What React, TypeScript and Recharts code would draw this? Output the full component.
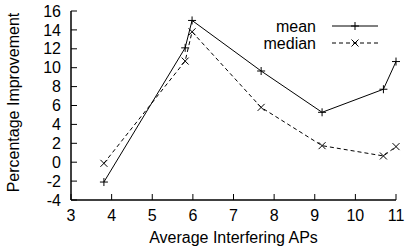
import { Line, LineChart, XAxis, YAxis } from "recharts";

const xValues = [3.81, 5.81, 5.98, 7.68, 9.18, 10.69, 11.0];
const meanValues = [-2.1, 12.1, 15.0, 9.65, 5.28, 7.72, 10.65];
const medianValues = [-0.12, 10.7, 13.8, 5.8, 1.75, 0.66, 1.65];

const xTicks = [3, 4, 5, 6, 7, 8, 9, 10, 11];
const yTicks = [-4, -2, 0, 2, 4, 6, 8, 10, 12, 14, 16];
const seriesNames = ["mean", "median"];

const font = '"Liberation Sans", Arial, Helvetica, sans-serif';
const fontSize = 16;
const tickStyle = { fill: "#000", fontSize, fontFamily: font };

const rows = xValues.map((x, i) => ({ x, mean: meanValues[i], median: medianValues[i] }));

function Plus({ cx, cy }: { cx: number; cy: number }) {
  return <path d={`M${cx - 4},${cy}h8M${cx},${cy - 4}v8`} stroke="#000" strokeWidth={1} fill="none" />;
}

function Cross({ cx, cy }: { cx: number; cy: number }) {
  return <path d={`M${cx - 3.5},${cy - 3.5}l7,7M${cx - 3.5},${cy + 3.5}l7,-7`} stroke="#000" strokeWidth={1} fill="none" />;
}

const blank = () => "";

export default function App() {
  return (
    <div style={{ position: "absolute", left: 0, top: 0, width: 406, height: 251, background: "#fff" }}>
      <LineChart width={406} height={251} data={rows} margin={{ top: 11, right: 10, left: 0, bottom: 0 }} style={{ fontFamily: font }}>
        <XAxis
          dataKey="x"
          type="number"
          domain={[3, 11]}
          ticks={xTicks}
          interval={0}
          height={51}
          tickSize={-6}
          tickMargin={16}
          tick={tickStyle}
          stroke="#000"
          axisLine={{ stroke: "#000", strokeWidth: 1.5 }}
          tickLine={{ stroke: "#000" }}
          label={({ viewBox }: any) => (
            <text x={viewBox.x + viewBox.width / 2} y={243} textAnchor="middle" fontSize={fontSize} fontFamily={font} fill="#000">
              Average Interfering APs
            </text>
          )}
        />
        <XAxis
          xAxisId="top"
          orientation="top"
          dataKey="x"
          type="number"
          domain={[3, 11]}
          ticks={xTicks}
          interval={0}
          height={0}
          tickSize={-6}
          tickFormatter={blank}
          stroke="#000"
          axisLine={{ stroke: "#000", strokeWidth: 1.5 }}
        />
        <YAxis
          type="number"
          domain={[-4, 16]}
          ticks={yTicks}
          interval={0}
          width={71}
          tickSize={-6}
          tickMargin={16}
          tick={tickStyle}
          stroke="#000"
          axisLine={{ stroke: "#000", strokeWidth: 1.5 }}
          label={({ viewBox }: any) => {
            const cy = viewBox.y + viewBox.height / 2 - 3;
            return (
              <text x={19} y={cy} transform={`rotate(-90, 19, ${cy})`} textAnchor="middle" fontSize={fontSize} fontFamily={font} fill="#000">
                Percentage Improvement
              </text>
            );
          }}
        />
        <YAxis
          yAxisId="right"
          orientation="right"
          type="number"
          domain={[-4, 16]}
          ticks={yTicks}
          interval={0}
          width={0}
          tickSize={-6}
          tickFormatter={blank}
          stroke="#000"
          axisLine={{ stroke: "#000", strokeWidth: 1.5 }}
        />
        <Line
          dataKey="mean"
          stroke="#000"
          strokeWidth={1}
          isAnimationActive={false}
          dot={(p: any) => <Plus key={`m${p.index}`} cx={p.cx} cy={p.cy} />}
        />
        <Line
          dataKey="median"
          stroke="#000"
          strokeWidth={1}
          strokeDasharray="4 3"
          isAnimationActive={false}
          dot={(p: any) => <Cross key={`d${p.index}`} cx={p.cx} cy={p.cy} />}
        />
      </LineChart>
      <svg width={406} height={251} style={{ position: "absolute", left: 0, top: 0, pointerEvents: "none" }}>
        {seriesNames.map((name, i) => {
          const y = 26 + i * 17;
          return (
            <g key={name}>
              <text x={316} y={y + 5.5} textAnchor="end" fontSize={fontSize} fontFamily={font} fill="#000">
                {name}
              </text>
              <line x1={332} x2={378} y1={y} y2={y} stroke="#000" strokeWidth={1} strokeDasharray={i === 1 ? "4 3" : undefined} />
              {i === 0 ? <Plus cx={355} cy={y} /> : <Cross cx={355} cy={y} />}
            </g>
          );
        })}
      </svg>
    </div>
  );
}
